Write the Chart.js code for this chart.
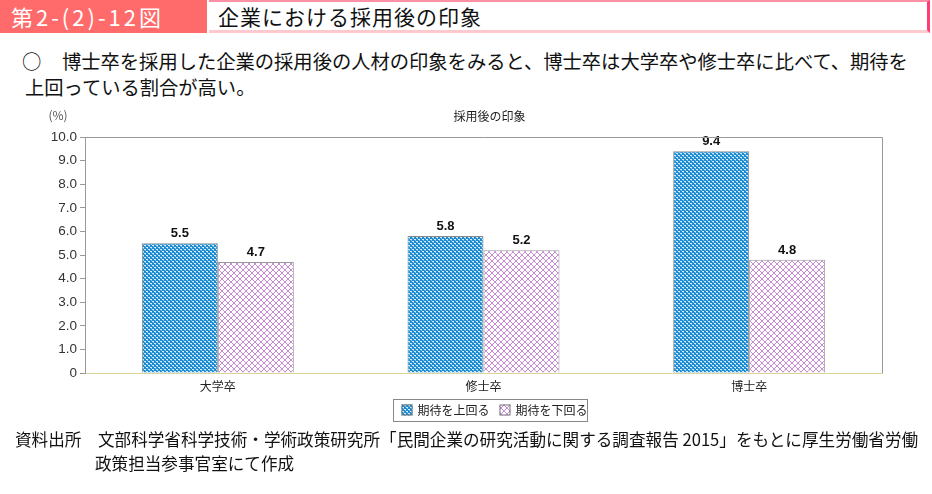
<!DOCTYPE html>
<html lang="ja">
<head>
<meta charset="utf-8">
<script src="https://cdn.jsdelivr.net/npm/chart.js@4.4.1/dist/chart.umd.min.js"></script>
<style>
  html, body { margin: 0; padding: 0; background: #fff; }
  body { width: 932px; height: 494px; position: relative; overflow: hidden;
         font-family: "Noto Sans CJK JP", "Noto Sans", sans-serif; color: #222; }
  .fig-no { position: absolute; left: 0; top: 0; width: 207px; height: 33px; background: #ff6b6b;
            color: #fff; font-size: 22px; line-height: 32px; padding-left: 11px; box-sizing: border-box; letter-spacing: 3px; }
  .fig-title { position: absolute; left: 209px; top: 0; width: 721px; height: 33px; box-sizing: border-box;
               border-top: 2px solid #ff8fa3; border-right: 3px solid #ff3d6e; border-bottom: 3px solid #ffc8cc;
               font-size: 21px; line-height: 28px; padding-left: 9px; letter-spacing: 1px; color: #111; }
  .lead { position: absolute; left: 22px; top: 48px; font-size: 19.3px; line-height: 26px; color: #111; }
  .lead .l1 { white-space: nowrap; }
  .lead .circle { display: inline-block; width: 40px; }
  .lead .l2 { padding-left: 3px; }
  #wrap { position: absolute; left: 0; top: 105px; width: 932px; height: 325px; }
  .src { position: absolute; left: 15px; top: 427px; font-size: 16.6px; line-height: 24px; color: #111; white-space: nowrap; }
  .src .l2 { padding-left: 80px; }
</style>
</head>
<body>
<div class="fig-no">第2-(2)-12図</div>
<div class="fig-title">企業における採用後の印象</div>
<div class="lead">
  <div class="l1"><span class="circle">○</span>博士卒を採用した企業の採用後の人材の印象をみると、博士卒は大学卒や修士卒に比べて、期待を</div>
  <div class="l2">上回っている割合が高い。</div>
</div>
<div id="wrap"><canvas id="chart" width="932" height="325"></canvas></div>
<div class="src">
  <div>資料出所　文部科学省科学技術・学術政策研究所「民間企業の研究活動に関する調査報告 2015」をもとに厚生労働省労働</div>
  <div class="l2">政策担当参事官室にて作成</div>
</div>
<script>
// data
const categories = ["大学卒", "修士卒", "博士卒"];
const seriesLabels = ["期待を上回る", "期待を下回る"];
const aboveExpect = [5.5, 5.8, 9.4];
const belowExpect = [4.7, 5.2, 4.8];
const chartTitle = "採用後の印象";
const unitLabel = "(%)";

// fill patterns
function makeDotPattern() {
    const c = document.createElement("canvas");
    c.width = 4; c.height = 4;
    const g = c.getContext("2d");
    g.fillStyle = "#1b8ccf";
    g.fillRect(0, 0, 4, 4);
    g.fillStyle = "rgba(235,245,255,0.9)";
    g.fillRect(0, 0, 2, 1);
    g.fillRect(2, 2, 2, 1);
    g.fillStyle = "rgba(140,200,240,0.9)";
    g.fillRect(1, 1, 1, 1);
    g.fillRect(3, 3, 1, 1);
    return g.createPattern(c, "repeat");
}

function makeCrossPattern() {
    const c = document.createElement("canvas");
    c.width = 6; c.height = 6;
    const g = c.getContext("2d");
    g.fillStyle = "#ffffff";
    g.fillRect(0, 0, 6, 6);
    g.fillStyle = "#c98ad6";
    g.fillRect(0, 0, 1, 1); g.fillRect(1, 1, 1, 1); g.fillRect(2, 2, 2, 2);
    g.fillRect(4, 1, 1, 1); g.fillRect(5, 0, 1, 1);
    g.fillRect(1, 4, 1, 1); g.fillRect(0, 5, 1, 1);
    g.fillRect(4, 4, 1, 1); g.fillRect(5, 5, 1, 1);
    return g.createPattern(c, "repeat");
}

const bluePattern = makeDotPattern();
const pinkPattern = makeCrossPattern();

// value labels above the bars
const valueLabels = {
    id: "valueLabels",
    afterDatasetsDraw(chart) {
        const ctx = chart.ctx;
        ctx.save();
        ctx.font = "bold 13px 'Liberation Sans', Arial, sans-serif";
        ctx.fillStyle = "#111";
        ctx.textAlign = "center";
        ctx.textBaseline = "bottom";
        chart.data.datasets.forEach((ds, i) => {
            chart.getDatasetMeta(i).data.forEach((bar, j) => {
                ctx.fillText(ds.data[j].toFixed(1), bar.x, bar.y - 3);
            });
        });
        ctx.restore();
    }
};

// frame, title, unit and legend box
const extras = {
    id: "extras",
    afterDraw(chart) {
        const ctx = chart.ctx;
        const a = chart.chartArea;
        ctx.save();
        ctx.strokeStyle = "#999";
        ctx.lineWidth = 1;
        ctx.beginPath();
        ctx.moveTo(a.left, a.top + 0.5);
        ctx.lineTo(a.right + 0.5, a.top + 0.5);
        ctx.lineTo(a.right + 0.5, a.bottom);
        ctx.stroke();

        ctx.fillStyle = "#222";
        ctx.font = "12px 'Noto Sans CJK JP', sans-serif";
        ctx.textAlign = "center";
        ctx.textBaseline = "middle";
        ctx.fillText(chartTitle, (a.left + a.right) / 2 + 6, a.top - 21);
        ctx.fillStyle = "#555";
        ctx.fillText(unitLabel, 58, a.top - 22);

        // legend
        const bw = 194, bh = 22;
        const bx = Math.round((a.left + a.right) / 2 + 6 - bw / 2) + 0.5;
        const by = a.bottom + 26.5;
        ctx.strokeStyle = "#888";
        ctx.strokeRect(bx, by, bw, bh);
        ctx.font = "12px 'Noto Sans CJK JP', sans-serif";
        ctx.textAlign = "left";
        let x = bx + 8;
        chart.data.datasets.forEach((ds) => {
            ctx.fillStyle = ds.backgroundColor;
            ctx.fillRect(x, by + 5, 11, 11);
            ctx.strokeStyle = "#777";
            ctx.strokeRect(x + 0.5, by + 5.5, 10, 10);
            ctx.fillStyle = "#222";
            ctx.fillText(ds.label, x + 16, by + bh / 2);
            x += 98;
        });
        ctx.restore();
    }
};

new Chart(document.getElementById("chart"), {
    type: "bar",
    data: {
        labels: categories,
        datasets: [
            {
                label: seriesLabels[0],
                data: aboveExpect,
                backgroundColor: bluePattern,
                borderColor: "#8a8a8a",
                borderWidth: 1
            },
            {
                label: seriesLabels[1],
                data: belowExpect,
                backgroundColor: pinkPattern,
                borderColor: "#9a9a9a",
                borderWidth: 1
            }
        ]
    },
    options: {
        responsive: false,
        animation: false,
        layout: { padding: { top: 32, right: 50, left: 0, bottom: 27 } },
        datasets: { bar: { categoryPercentage: 0.572, barPercentage: 1 } },
        plugins: {
            legend: { display: false },
            tooltip: { enabled: false },
            title: { display: false }
        },
        scales: {
            x: {
                grid: { display: false },
                border: { color: "#ddd49a" },
                ticks: { color: "#222", font: { size: 12, family: "'Noto Sans CJK JP', sans-serif" }, padding: -2 },
                afterFit: (s) => { s.height = 30; }
            },
            y: {
                min: 0,
                max: 10,
                border: { color: "#999" },
                grid: { drawOnChartArea: false, tickLength: 5, color: "#999" },
                ticks: {
                    stepSize: 1,
                    color: "#333",
                    padding: 3,
                    font: { size: 13.5, family: "'Liberation Sans', Arial, sans-serif" },
                    callback: (v) => (v === 0 ? "0" : v.toFixed(1))
                },
                afterFit: (s) => { s.width = 85; }
            }
        }
    },
    plugins: [valueLabels, extras]
});
</script>
</body>
</html>
